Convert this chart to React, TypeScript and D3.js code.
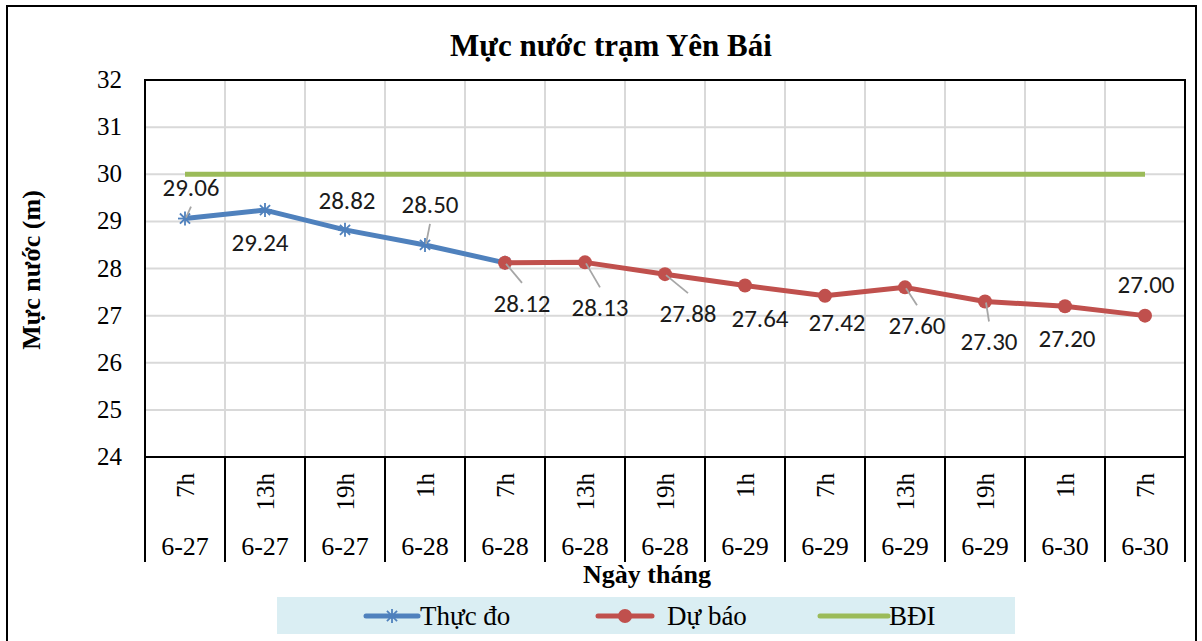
import React from "react";
import * as d3 from "d3";

const hours = ["7h", "13h", "19h", "1h", "7h", "13h", "19h", "1h", "7h", "13h", "19h", "1h", "7h"];
const dates = ["6-27", "6-27", "6-27", "6-28", "6-28", "6-28", "6-28", "6-29", "6-29", "6-29", "6-29", "6-30", "6-30"];
const observed: (number | null)[] = [29.06, 29.24, 28.82, 28.5, 28.12, null, null, null, null, null, null, null, null];
const forecast: (number | null)[] = [null, null, null, null, 28.12, 28.13, 27.88, 27.64, 27.42, 27.6, 27.3, 27.2, 27.0];
const alarm1: number[] = [30, 30, 30, 30, 30, 30, 30, 30, 30, 30, 30, 30, 30];
const yTicks = [24, 25, 26, 27, 28, 29, 30, 31, 32];

// label placement (offset of label centre from point): [dx, dy, leader]
const labelOffsets: [number, number, boolean][] = [
  [6, -32, true],
  [-5, 32, false],
  [2, -30, false],
  [5, -41, true],
  [17, 40, true],
  [15, 45, true],
  [23, 39, true],
  [15, 33, false],
  [12, 26, false],
  [12, 38, true],
  [4, 40, true],
  [2, 32, false],
  [1, -32, false],
];

const W = 1202;
const H = 641;
const M = { left: 145, right: 1185, top: 80, bottom: 457 };
const axisBottom = 562;

const BLUE = "#4F81BD";
const RED = "#C0504D";
const GREEN = "#9BBB59";
const serif = "'Liberation Serif', 'Times New Roman', serif";
const sans = "Carlito, Calibri, 'Open Sans', sans-serif";

export default function App() {
  const idx = d3.range(hours.length);
  const x = d3.scaleBand<number>().domain(idx).range([M.left, M.right]).padding(0);
  const cx = (i: number) => (x(i) as number) + x.bandwidth() / 2;
  const y = d3.scaleLinear().domain([24, 32]).range([M.bottom, M.top]);

  const line = d3
    .line<number | null>()
    .defined((d) => d !== null)
    .x((_, i) => cx(i))
    .y((d) => y(d as number));

  const boundaries = d3.range(hours.length + 1).map((i) => M.left + i * x.bandwidth());

  const star = (px: number, py: number, k: number) => {
    const r = 7;
    const q = r * 0.72;
    return (
      <g key={k} stroke={BLUE} strokeWidth={1.8}>
        <line x1={px - r} y1={py} x2={px + r} y2={py} />
        <line x1={px} y1={py - r} x2={px} y2={py + r} />
        <line x1={px - q} y1={py - q} x2={px + q} y2={py + q} />
        <line x1={px - q} y1={py + q} x2={px + q} y2={py - q} />
      </g>
    );
  };

  const values = idx.map((i) => (i > 4 ? forecast[i] : observed[i]) as number);

  return (
    <svg width={W} height={H} style={{ position: "absolute", left: 0, top: 0, background: "#fff" }}>
      <rect x={0} y={0} width={W} height={H} fill="#fff" />
      <rect x={7} y={6} width={1189} height={660} fill="none" stroke="#000" strokeWidth={2} />

      <text x={611} y={56} textAnchor="middle" fontFamily={serif} fontWeight="bold" fontSize={31}>
        Mực nước trạm Yên Bái
      </text>

      {/* grid */}
      {yTicks.map((t) => (
        <line key={"h" + t} x1={M.left} x2={M.right} y1={y(t)} y2={y(t)} stroke="#D9D9D9" strokeWidth={2} />
      ))}
      {boundaries.map((b, i) => (
        <line key={"v" + i} x1={b} x2={b} y1={M.top} y2={M.bottom} stroke="#D9D9D9" strokeWidth={2} />
      ))}
      <rect x={M.left} y={M.top} width={M.right - M.left} height={M.bottom - M.top} fill="none" stroke="#000" strokeWidth={2} />

      {/* category axis box */}
      {boundaries.map((b, i) => (
        <line key={"c" + i} x1={b} x2={b} y1={M.bottom} y2={axisBottom} stroke="#000" strokeWidth={2} />
      ))}
      {idx.map((i) => (
        <g key={"cl" + i}>
          <text
            transform={`translate(${cx(i) + 9},${473}) rotate(-90)`}
            textAnchor="end"
            fontFamily={serif}
            fontSize={25}
          >
            {hours[i]}
          </text>
          <text x={cx(i)} y={555} textAnchor="middle" fontFamily={serif} fontSize={26}>
            {dates[i]}
          </text>
        </g>
      ))}

      {/* y ticks */}
      {yTicks.map((t) => (
        <text key={"yt" + t} x={122} y={y(t) + 8} textAnchor="end" fontFamily={serif} fontSize={25}>
          {t}
        </text>
      ))}
      <text
        transform={`translate(40,270) rotate(-90)`}
        textAnchor="middle"
        fontFamily={serif}
        fontWeight="bold"
        fontSize={26}
      >
        Mực nước (m)
      </text>
      <text x={647} y={583} textAnchor="middle" fontFamily={serif} fontWeight="bold" fontSize={26}>
        Ngày tháng
      </text>

      {/* series */}
      <path d={line(alarm1) || ""} fill="none" stroke={GREEN} strokeWidth={5} />
      <path d={line(observed) || ""} fill="none" stroke={BLUE} strokeWidth={5} strokeLinejoin="round" />
      <path d={line(forecast) || ""} fill="none" stroke={RED} strokeWidth={5} strokeLinejoin="round" />
      {observed.map((v, i) => (v !== null ? star(cx(i), y(v), i) : null))}
      {forecast.map((v, i) =>
        v !== null ? <circle key={"f" + i} cx={cx(i)} cy={y(v)} r={7} fill={RED} /> : null
      )}

      {/* data labels */}
      {values.map((v, i) => {
        const [dx, dy, leader] = labelOffsets[i];
        const px = cx(i);
        const py = y(v);
        const lx = px + dx;
        const ly = py + dy;
        const dir = dy > 0 ? 1 : -1;
        return (
          <g key={"dl" + i}>
            {leader && (
              <line
                x1={px + (dx > 0 ? 1 : 0)}
                y1={py + dir * 1}
                x2={lx}
                y2={ly - dir * 20}
                stroke="#A6A6A6"
                strokeWidth={1.8}
              />
            )}
            <text x={lx} y={ly + 9} textAnchor="middle" fontFamily={sans} fontSize={25} fill="#1a1a1a">
              {v.toFixed(2)}
            </text>
          </g>
        );
      })}

      {/* legend */}
      <rect x={277} y={597} width={738} height={37} fill="#DAEEF3" />
      <line x1={366} x2={418} y1={616} y2={616} stroke={BLUE} strokeWidth={5} strokeLinecap="round" />
      {star(392, 616, 100)}
      <text x={420} y={625} fontFamily={serif} fontSize={27}>Thực đo</text>
      <line x1={598} x2={652} y1={616} y2={616} stroke={RED} strokeWidth={5} strokeLinecap="round" />
      <circle cx={625} cy={616} r={7} fill={RED} />
      <text x={667} y={625} fontFamily={serif} fontSize={27}>Dự báo</text>
      <line x1={820} x2={888} y1={616} y2={616} stroke={GREEN} strokeWidth={5} strokeLinecap="round" />
      <text x={889} y={625} fontFamily={serif} fontSize={27}>BĐI</text>
    </svg>
  );
}
